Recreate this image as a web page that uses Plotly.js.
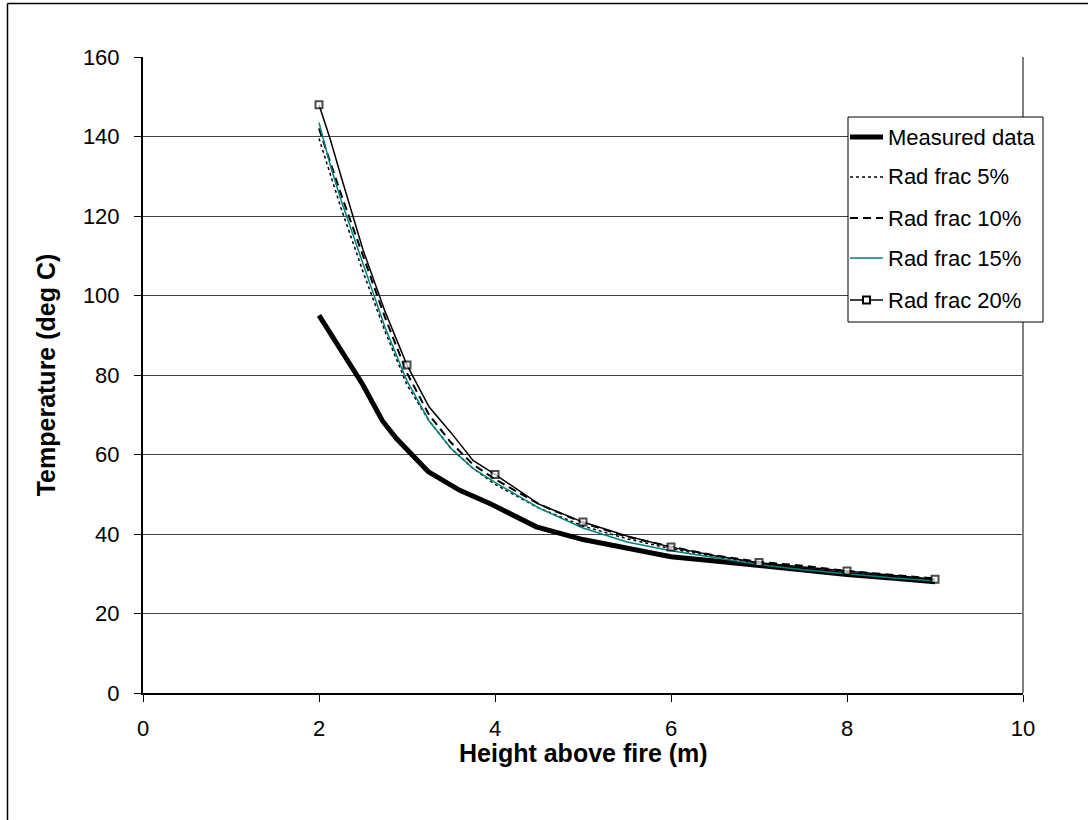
<!DOCTYPE html>
<html>
<head>
<meta charset="utf-8">
<script src="https://cdn.plot.ly/plotly-3.0.1.min.js"></script>
<style>
  html, body { margin: 0; padding: 0; background: #ffffff; }
  #chart { width: 1088px; height: 820px; }
</style>
</head>
<body>
<div id="chart"></div>
<script>
// ---- Data ----
const measuredX = [2, 2.25, 2.5, 2.72, 2.88, 3.24, 3.6, 3.94, 4.47, 5.0, 5.5, 6.0, 6.5, 7.0, 7.5, 8.0, 8.5, 9.0];
const measuredY = [95, 86, 77.5, 68.5, 64, 55.7, 51, 47.7, 41.8, 38.6, 36.3, 34.3, 33.2, 32, 31, 29.8, 28.9, 28];

const modelX = [2, 2.125, 2.25, 2.5, 2.75, 3, 3.25, 3.5, 3.75, 4, 4.5, 5, 5.5, 6, 6.5, 7, 7.5, 8, 8.5, 9];
const rad5Y  = [139.5, 130.5, 122, 106, 91, 77.5, 68.5, 61.5, 56.5, 52.5, 46.5, 42, 38.8, 36.3, 34.3, 32.6, 31.3, 30.3, 29.3, 28.6];
const rad10Y = [142, 133.5, 125.5, 110, 94.5, 80.5, 70, 63, 57.5, 53.8, 47.5, 42.8, 39.3, 36.8, 34.6, 33, 32, 30.7, 29.7, 28.8];
const rad15Y = [143.5, 133, 124, 108, 92, 78.5, 68.5, 61.5, 56.5, 53, 46.5, 41.5, 38, 35.8, 34, 32.3, 31, 30, 29, 28.2];
const rad20Y = [148, 139.5, 130, 111.5, 96, 82.5, 72, 65.5, 58.5, 55, 47.5, 43, 39.5, 36.7, 34.5, 32.8, 31.7, 30.7, 29.6, 28.6];

const seriesNames = ["Measured data", "Rad frac 5%", "Rad frac 10%", "Rad frac 15%", "Rad frac 20%"];
const xTickVals = [0, 2, 4, 6, 8, 10];
const yTickVals = [0, 20, 40, 60, 80, 100, 120, 140, 160];
const xTitle = "Height above fire (m)";
const yTitle = "Temperature (deg C)";

// ---- Styles ----
const FONT = "Liberation Sans, Arial, sans-serif";
const TEAL = "rgb(0,128,128)";
const styles = [
  {color: "#000000", width: 5, dash: "solid"},
  {color: "#000000", width: 1.5, dash: "dot"},
  {color: "#000000", width: 2, dash: "8px,5px"},
  {color: TEAL, width: 1.5, dash: "solid"},
  {color: "#000000", width: 1.5, dash: "solid"}
];

const xs = [measuredX, modelX, modelX, modelX, modelX];
const ys = [measuredY, rad5Y, rad10Y, rad15Y, rad20Y];

const traces = seriesNames.map((name, i) => {
  const t = {
    x: xs[i], y: ys[i], name: name, type: "scatter", mode: "lines",
    line: {color: styles[i].color, width: styles[i].width, dash: styles[i].dash},
    showlegend: false, hoverinfo: "skip"
  };
  if (i === 4) {
    t.mode = "lines+markers";
    t.marker = {
      symbol: "square", color: "#ffffff",
      size: xs[i].map(v => Number.isInteger(v) ? 7 : 0),
      line: {color: "#000000", width: 2}
    };
  }
  return t;
});

// ---- Layout geometry (pixels -> paper) ----
const L = 143, R = 1023, T = 57, B = 693, W = 1088, H = 820;
const px = x => (x - L) / (R - L);
const py = y => (B - y) / (B - T);

const shapes = [];
const annotations = [];

// outer frame (left and top edges visible)
shapes.push({type: "line", xref: "paper", yref: "paper", x0: px(7.5), x1: px(7.5), y0: py(3.5), y1: py(H + 5), line: {color: "#000", width: 1.5}});
shapes.push({type: "line", xref: "paper", yref: "paper", x0: px(7.5), x1: px(W + 5), y0: py(3.5), y1: py(3.5), line: {color: "#000", width: 1.5}});
// plot-area right border
shapes.push({type: "line", xref: "paper", yref: "paper", x0: 1, x1: 1, y0: 0, y1: 1, line: {color: "#808080", width: 2}});

// x-axis title
annotations.push({xref: "paper", yref: "paper", x: 0.5, y: py(753), xanchor: "center", yanchor: "middle",
  text: "<b>" + xTitle + "</b>", showarrow: false, font: {family: FONT, size: 25, color: "#000"}});

// manual legend
const legL = 848, legR = 1043, legT = 117, legB = 322;
shapes.push({type: "rect", xref: "paper", yref: "paper", x0: px(legL), x1: px(legR), y0: py(legB), y1: py(legT),
  fillcolor: "#ffffff", line: {color: "#000", width: 1}, layer: "above"});
const itemY = [137, 177, 218, 258, 300];
seriesNames.forEach((name, i) => {
  shapes.push({type: "line", xref: "paper", yref: "paper", x0: px(850), x1: px(883), y0: py(itemY[i]), y1: py(itemY[i]),
    line: {color: styles[i].color, width: styles[i].width, dash: styles[i].dash}, layer: "above"});
  annotations.push({xref: "paper", yref: "paper", x: px(886), y: py(itemY[i]), xanchor: "left", yanchor: "middle",
    text: name, showarrow: false, font: {family: FONT, size: 22, color: "#000"}});
});
// marker sample for 20%
shapes.push({type: "rect", xref: "paper", yref: "paper", x0: px(863), x1: px(870), y0: py(itemY[4] + 3.5), y1: py(itemY[4] - 3.5),
  fillcolor: "#fff", line: {color: "#000", width: 2}, layer: "above"});

const layout = {
  width: W, height: H,
  margin: {l: L, r: W - R, t: T, b: H - B, pad: 0},
  paper_bgcolor: "#ffffff", plot_bgcolor: "#ffffff",
  showlegend: false,
  font: {family: FONT, size: 22, color: "#000"},
  xaxis: {
    range: [0, 10], tickvals: xTickVals, ticktext: xTickVals.map(String),
    showgrid: false, zeroline: false,
    showline: true, linecolor: "#000", linewidth: 2,
    ticks: "outside", ticklen: 7, tickcolor: "#000", tickwidth: 1,
    ticklabelstandoff: 8,
    tickfont: {family: FONT, size: 22, color: "#000"}
  },
  yaxis: {
    range: [0, 160], tickvals: yTickVals, ticktext: yTickVals.map(String),
    showgrid: true, gridcolor: "#404040", gridwidth: 1, zeroline: false,
    showline: true, linecolor: "#000", linewidth: 2,
    ticks: "outside", ticklen: 7, tickcolor: "#000", tickwidth: 1,
    ticklabelstandoff: 10,
    tickfont: {family: FONT, size: 22, color: "#000"},
    title: {text: "<b>" + yTitle + "</b>", font: {family: FONT, size: 25, color: "#000"}, standoff: 20}
  },
  shapes: shapes,
  annotations: annotations
};

Plotly.newPlot("chart", traces, layout, {staticPlot: true, displayModeBar: false});
</script>
</body>
</html>
